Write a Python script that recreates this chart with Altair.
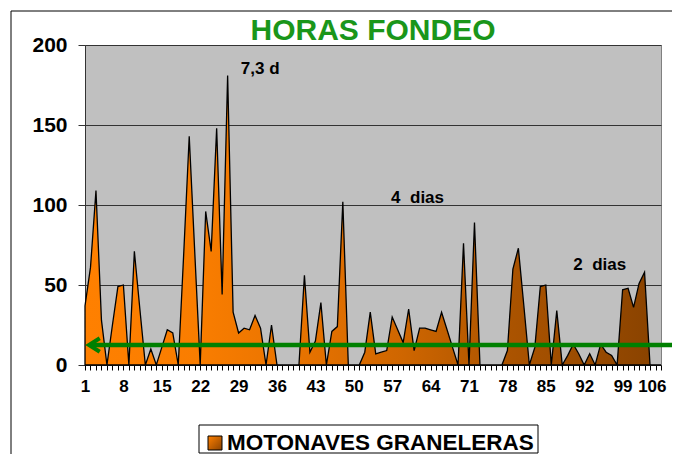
import altair as alt
import pandas as pd

# ---------------- data ----------------
ship_index = list(range(1, 107))
hours = [
    37, 61, 109, 28, 0, 25, 49, 50, 0, 71,
    35, 0, 10, 0, 11, 22, 20, 0, 70, 143,
    71, 0, 96, 71, 148, 44, 181, 33, 20, 23,
    22, 31, 23, 0, 25, 0, 0, 0, 0, 0,
    56, 8, 15, 39, 0, 21, 24, 102, 0, 0,
    0, 8, 33, 7, 8, 9, 30, 22, 14, 35,
    9, 23, 23, 22, 21, 33, 22, 11, 0, 76,
    0, 89, 0, 0, 0, 0, 0, 9, 60, 73,
    37, 0, 11, 49, 50, 0, 34, 0, 6, 13,
    7, 0, 7, 0, 13, 8, 6, 0, 47, 48,
    36, 51, 58, 0, 0, 0,
]
y_ticks = [0, 50, 100, 150, 200]
threshold = 12.5
note_x = [29.4, 56.8, 90.0]
note_y = [182, 101.5, 59.4]
note_text = ["7,3 d", "4\u00a0\u00a0dias", "2\u00a0\u00a0dias"]
title_text = "HORAS FONDEO"
legend_text = "MOTONAVES GRANELERAS"

df = pd.DataFrame({"n": ship_index, "horas": hours})
notes = pd.DataFrame({"x": note_x, "y": note_y, "t": note_text})
one = pd.DataFrame({"a": [0]})

FONT = "Liberation Sans"
W, H = 576, 320

x_scale = alt.Scale(domain=[1, 106], nice=False, zero=False)
y_scale = alt.Scale(domain=[0, 200], nice=False)

fill_grad = alt.Gradient(
    gradient="linear", x1=0, x2=1, y1=0, y2=0,
    stops=[
        alt.GradientStop(offset=0, color="#FF8000"),
        alt.GradientStop(offset=0.2, color="#F97D00"),
        alt.GradientStop(offset=0.37, color="#E87300"),
        alt.GradientStop(offset=0.55, color="#CF6600"),
        alt.GradientStop(offset=0.73, color="#AC5400"),
        alt.GradientStop(offset=1, color="#884200"),
    ],
)
swatch_grad = alt.Gradient(
    gradient="linear", x1=0, x2=1, y1=0, y2=1,
    stops=[
        alt.GradientStop(offset=0, color="#FF8000"),
        alt.GradientStop(offset=1, color="#8A4200"),
    ],
)

area = alt.Chart(df).mark_area(
    color=fill_grad, stroke="black", strokeWidth=1.3, interpolate="linear"
).encode(
    x=alt.X(
        "n:Q", scale=x_scale, title=None,
        axis=alt.Axis(
            values=ship_index, tickCount=500, format="d",
            labelExpr="(datum.value - 1) % 7 == 0 ? format(datum.value, 'd') : ''",
            labelAlign=alt.condition("datum.value == 106", alt.value("right"), alt.value("center")),
            labelOffset=alt.condition("datum.value == 106", alt.value(5), alt.value(0)),
            labelFont=FONT, labelFontSize=17, labelFontWeight="bold",
            labelColor="black", labelPadding=8, labelOverlap=False,
            labelFlush=False, labelBound=False,
            tickSize=5, tickColor="black", tickWidth=1,
            domainColor="#333333", grid=False,
        ),
    ),
    y=alt.Y(
        "horas:Q", scale=y_scale, title=None,
        axis=alt.Axis(
            values=y_ticks, labelFont=FONT, labelFontSize=21,
            labelFontWeight="bold", labelColor="black", labelPadding=11,
            tickSize=7, tickColor="#333333", domainColor="#333333",
            grid=True, gridColor="#333333", gridWidth=1,
        ),
    ),
)

arrow_line = alt.Chart(one).mark_rule(color="#008000", strokeWidth=4.5).encode(
    x=alt.value(5), x2=alt.value(590), y=alt.datum(threshold)
)
arrow_head = alt.Chart(one).mark_point(
    shape="M 1.6 -1 L 0 0 L 1.6 1", size=180, filled=False,
    stroke="#008000", strokeWidth=4, strokeJoin="miter", opacity=1,
).encode(x=alt.value(4), y=alt.datum(threshold))

note_marks = alt.Chart(notes).mark_text(
    align="left", baseline="alphabetic", font=FONT, fontSize=17,
    fontWeight="bold", color="black",
).encode(x="x:Q", y="y:Q", text="t:N")

title = alt.Chart(one).mark_text(
    text=title_text, font=FONT, fontSize=30, fontWeight="bold",
    color="#1A961A", align="center", baseline="alphabetic",
).encode(x=alt.value(288), y=alt.value(-5))

frame_top = alt.Chart(one).mark_rule(color="black", strokeWidth=1).encode(
    x=alt.value(-74), x2=alt.value(590), y=alt.value(-34)
)
frame_left = alt.Chart(one).mark_rule(color="black", strokeWidth=1).encode(
    x=alt.value(-74), y=alt.value(-34), y2=alt.value(409)
)

legend_box = alt.Chart(one).mark_rect(
    fill="white", stroke="black", strokeWidth=1
).encode(x=alt.value(114), x2=alt.value(453), y=alt.value(380), y2=alt.value(408))
legend_swatch = alt.Chart(one).mark_rect(
    color=swatch_grad, stroke="black", strokeWidth=1
).encode(x=alt.value(123), x2=alt.value(137), y=alt.value(391), y2=alt.value(405))
legend_label = alt.Chart(one).mark_text(
    text=legend_text, font=FONT, fontSize=22.5, fontWeight="bold",
    color="black", align="left", baseline="middle",
).encode(x=alt.value(142), y=alt.value(398))

chart = alt.layer(
    frame_top, frame_left, area, arrow_line, arrow_head, note_marks,
    title, legend_box, legend_swatch, legend_label,
).properties(
    width=W, height=H,
    autosize=alt.AutoSizeParams(type="none"),
    padding={"left": 77, "top": 37, "right": 11, "bottom": 89},
).configure_view(fill="#C0C0C0", stroke="#808080", strokeWidth=1)

chart.save("out.html", embed_options={"renderer": "svg", "actions": False})
